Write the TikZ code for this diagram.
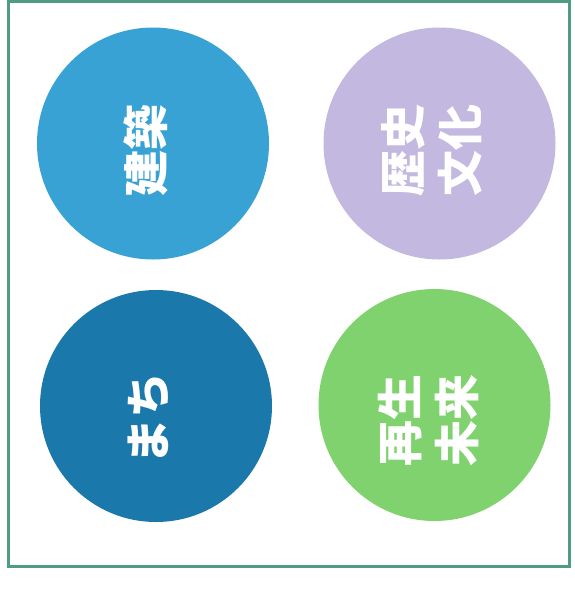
\documentclass[tikz,border=0pt]{standalone}
\usepackage{fontspec}
\newfontfamily\cjk{Noto Sans CJK JP}
\definecolor{cA}{HTML}{38A2D4}
\definecolor{cB}{HTML}{C3B8DF}
\definecolor{cC}{HTML}{1A78AA}
\definecolor{cD}{HTML}{80D26E}
\definecolor{frameC}{HTML}{4E9C82}
\begin{document}
\begin{tikzpicture}[x=1pt,y=-1pt,
  disc/.style={circle,draw=none,minimum size=232pt,inner sep=0pt},
  lbl/.style={rotate=90,text=white,font=\cjk\bfseries\fontsize{46}{57}\selectfont,align=center,inner sep=0pt}]
\useasboundingbox (0,0) rectangle (575,595);
\fill[white] (0,0) rectangle (575,595);
\draw[frameC,line width=3pt] (8,1.5) rectangle (569,566);
\node[disc,fill=cA] (c1) at (153,143.5) {};
\node[disc,fill=cB] (c2) at (439.5,143.5) {};
\node[disc,fill=cC] (c3) at (156,406) {};
\node[disc,fill=cD] (c4) at (434.5,405) {};
\node[lbl] (t1) at (146,150) {建築};
\node[lbl] (t2) at (432,150) {歴史\\文化};
\node[lbl] (t3) at (149,418) {まち};
\node[lbl] (t4) at (429,420) {再生\\未来};
\end{tikzpicture}
\end{document}
